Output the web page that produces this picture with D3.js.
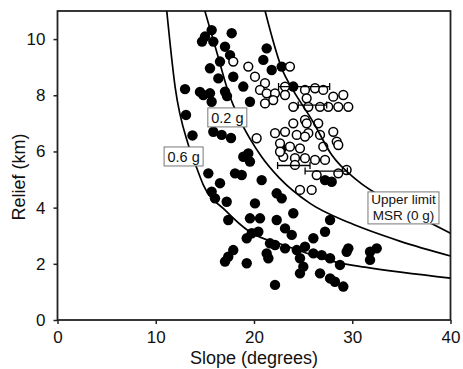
<!DOCTYPE html>
<html>
<head>
<meta charset="utf-8">
<script src="https://cdn.jsdelivr.net/npm/d3@7"></script>
<style>
  body { margin: 0; background: #fff; }
  text { font-family: "Liberation Sans", Arial, sans-serif; fill: #111; }
</style>
</head>
<body>
<div id="grafico"></div>
<script>
// Data (slope in degrees, relief in km)
const xTicks = [0, 10, 20, 30, 40];
const yTicks = [0, 2, 4, 6, 8, 10];

// filled circles
const filledSlope = [15.69, 15.01, 15.86, 14.71, 17.73, 17.05, 17.56, 16.54, 15.52, 21.29,
  20.95, 22.82, 21.80, 17.89, 16.37, 18.91, 17.05, 17.25, 15.52, 14.84,
  12.98, 14.50, 15.69, 19.59, 13.08, 13.74, 15.86, 16.71, 17.66, 18.91,
  19.42, 19.59, 24.00, 22.82, 15.35, 18.07, 18.75, 16.54, 20.78, 15.69,
  16.03, 17.22, 20.10, 22.31, 22.82, 17.38, 19.59, 20.61, 22.31, 20.44,
  19.77, 19.26, 21.63, 22.14, 17.89, 17.38, 17.05, 19.26, 21.46, 21.29,
  22.14, 27.23, 27.91, 24.00, 27.74, 27.23, 23.16, 23.84, 26.04, 23.16,
  24.35, 25.19, 26.04, 26.89, 27.74, 28.75, 24.68, 25.02, 29.60, 29.43,
  26.72, 27.74, 29.09, 28.24, 24.68, 31.81, 32.49, 31.81];
const filledRelief = [10.32, 10.09, 9.91, 9.91, 10.21, 9.73, 9.43, 9.20, 8.96, 9.67,
  9.26, 9.02, 8.90, 8.66, 8.60, 8.31, 8.13, 7.97, 8.07, 8.01,
  8.22, 8.12, 7.77, 7.77, 7.30, 6.57, 6.70, 6.59, 6.48, 5.81,
  5.93, 5.64, 8.31, 6.11, 5.22, 5.22, 5.16, 4.87, 4.98, 4.57,
  4.33, 4.21, 4.15, 4.51, 4.33, 3.56, 3.62, 3.62, 3.56, 3.14,
  3.09, 2.91, 2.73, 2.67, 2.49, 2.25, 2.08, 2.02, 2.20, 2.37,
  1.25, 4.98, 4.92, 3.80, 3.56, 3.14, 3.26, 3.03, 2.91, 2.55,
  2.49, 2.61, 2.37, 2.31, 2.20, 1.96, 2.20, 1.90, 2.55, 2.43,
  1.66, 1.48, 1.19, 1.36, 1.66, 2.43, 2.55, 2.14];

// open circles
const openSlope = [17.89, 19.42, 20.10, 21.12, 20.61, 21.29, 22.14, 21.96, 21.12, 23.66,
  23.16, 23.16, 25.19, 26.21, 27.05, 28.07, 29.09, 25.36, 24.00, 25.53,
  26.72, 27.56, 28.58, 29.60, 25.19, 24.00, 26.54, 23.16, 24.35, 25.53,
  26.72, 28.07, 28.42, 28.58, 23.66, 24.68, 27.05, 22.98, 24.17, 25.19,
  26.21, 27.23, 20.27, 22.14, 22.65, 22.65, 24.17, 26.38, 28.58, 29.43,
  24.68, 25.87, 25.36, 25.19];
const openRelief = [9.20, 9.02, 8.66, 8.43, 8.19, 8.07, 8.07, 7.83, 7.71, 9.02,
  8.31, 8.01, 8.19, 8.25, 8.19, 7.95, 8.01, 7.89, 7.59, 7.59,
  7.59, 7.59, 7.59, 7.59, 7.12, 7.00, 7.00, 6.70, 6.59, 6.65,
  6.59, 6.70, 6.35, 6.23, 6.17, 6.11, 6.17, 5.81, 5.76, 5.76,
  5.70, 5.70, 6.47, 6.65, 6.29, 5.99, 5.52, 5.16, 5.22, 5.34,
  4.63, 4.63, 7.00, 6.53];

// horizontal error bars on some open circles
const errRelief = [8.31, 7.65, 5.50, 5.30];
const errLow = [22.5, 24.5, 22.4, 25.2];
const errHigh = [27.7, 27.4, 25.7, 29.5];

// threshold curves
const curve06Slope = [11.12, 11.97, 13.32, 14.18, 14.85, 17.06, 19.60, 23.17, 28.46, 31.31, 40];
const curve06Relief = [11.0, 8.30, 6.23, 5.40, 4.80, 3.91, 3.13, 2.65, 2.05, 1.88, 1.49];
const curve02Slope = [15.0, 16.2, 17.4, 18.6, 19.6, 20.7, 22.6, 25.7, 29.8, 34.9, 40];
const curve02Relief = [11.0, 9.55, 8.10, 7.10, 6.45, 5.85, 5.05, 4.15, 3.45, 2.80, 2.28];
const curve0Slope = [21.13, 22.96, 23.68, 26.02, 27.92, 30.47, 34.88, 40];
const curve0Relief = [11.0, 8.84, 8.36, 7.05, 5.87, 4.98, 4.03, 3.09];

// margins
const margin = { top: 11, right: 12.5, bottom: 49, left: 57.5 };
const width = 463 - margin.left - margin.right;
const height = 369 - margin.top - margin.bottom;

const svg = d3.select("#grafico")
  .append("svg")
    .attr("width", 463)
    .attr("height", 369)
  .append("g")
    .attr("transform", "translate(" + margin.left + "," + margin.top + ")");

const x = d3.scaleLinear().domain([0, 40]).range([0, width]);
const y = d3.scaleLinear().domain([0, 11]).range([height, 0]);

svg.append("clipPath").attr("id", "clip")
  .append("rect").attr("width", width).attr("height", height);

// axes
const xAxis = svg.append("g")
  .attr("transform", "translate(0," + height + ")")
  .call(d3.axisBottom(x).tickValues(xTicks).tickFormat(d3.format("d")).tickSize(4).tickPadding(7));
const yAxis = svg.append("g")
  .call(d3.axisLeft(y).tickValues(yTicks).tickFormat(d3.format("d")).tickSize(4).tickPadding(8));

[xAxis, yAxis].forEach(a => {
  a.select(".domain").remove();
  a.selectAll("line").attr("stroke", "#222").attr("stroke-width", 1.5);
  a.selectAll("text")
    .attr("font-family", "Liberation Sans, Arial, sans-serif")
    .attr("font-size", "17px")
    .attr("fill", "#111");
});

// frame
svg.append("rect")
  .attr("width", width)
  .attr("height", height)
  .attr("fill", "none")
  .attr("stroke", "#222")
  .attr("stroke-width", 1.8);

// axis titles
svg.append("text")
  .attr("x", width / 2)
  .attr("y", height + 44)
  .attr("text-anchor", "middle")
  .attr("font-size", "18px")
  .text("Slope (degrees)");

svg.append("text")
  .attr("transform", "translate(" + (25 - margin.left) + "," + (177 - margin.top) + ") rotate(-90)")
  .attr("text-anchor", "middle")
  .attr("font-size", "18px")
  .text("Relief (km)");

const plot = svg.append("g").attr("clip-path", "url(#clip)");

// filled points
plot.selectAll(".filled")
  .data(d3.range(filledSlope.length))
  .enter()
  .append("circle")
    .attr("class", "filled")
    .attr("cx", i => x(filledSlope[i]))
    .attr("cy", i => y(filledRelief[i]))
    .attr("r", 5.2)
    .attr("fill", "#000");

// open points
plot.selectAll(".open")
  .data(d3.range(openSlope.length))
  .enter()
  .append("circle")
    .attr("class", "open")
    .attr("cx", i => x(openSlope[i]))
    .attr("cy", i => y(openRelief[i]))
    .attr("r", 4.4)
    .attr("fill", "#fff")
    .attr("stroke", "#000")
    .attr("stroke-width", 1.5);

// error bars
const err = plot.selectAll(".err")
  .data(d3.range(errRelief.length))
  .enter()
  .append("g")
    .attr("class", "err")
    .attr("stroke", "#000")
    .attr("stroke-width", 1.3);
err.append("line")
  .attr("x1", i => x(errLow[i])).attr("x2", i => x(errHigh[i]))
  .attr("y1", i => y(errRelief[i])).attr("y2", i => y(errRelief[i]));
err.append("line")
  .attr("x1", i => x(errLow[i])).attr("x2", i => x(errLow[i]))
  .attr("y1", i => y(errRelief[i]) - 3.5).attr("y2", i => y(errRelief[i]) + 3.5);
err.append("line")
  .attr("x1", i => x(errHigh[i])).attr("x2", i => x(errHigh[i]))
  .attr("y1", i => y(errRelief[i]) - 3.5).attr("y2", i => y(errRelief[i]) + 3.5);

// curves
const line = d3.line()
  .x(d => x(d[0]))
  .y(d => y(d[1]))
  .curve(d3.curveMonotoneX);

[[curve06Slope, curve06Relief], [curve02Slope, curve02Relief], [curve0Slope, curve0Relief]]
  .forEach(([s, r]) => {
    plot.append("path")
      .datum(d3.zip(s, r))
      .attr("d", line)
      .attr("fill", "none")
      .attr("stroke", "#000")
      .attr("stroke-width", 1.7);
  });

// curve labels
function label(slope, relief, w, h, lines, size) {
  const g = svg.append("g")
    .attr("transform", "translate(" + x(slope) + "," + y(relief) + ")");
  g.append("rect")
    .attr("width", w)
    .attr("height", h)
    .attr("fill", "#fff")
    .attr("stroke", "#777")
    .attr("stroke-width", 1);
  lines.forEach((t, k) => {
    g.append("text")
      .attr("x", w / 2)
      .attr("y", (k + 1) * (h / lines.length) - 4)
      .attr("text-anchor", "middle")
      .attr("font-size", size)
      .text(t);
  });
}

label(15.3, 7.55, 39, 19, ["0.2 g"], "14.5px");
label(10.85, 6.16, 39, 19, ["0.6 g"], "14.5px");
label(31.6, 4.56, 71, 32, ["Upper limit", "MSR (0 g)"], "13.5px");
</script>
</body>
</html>
